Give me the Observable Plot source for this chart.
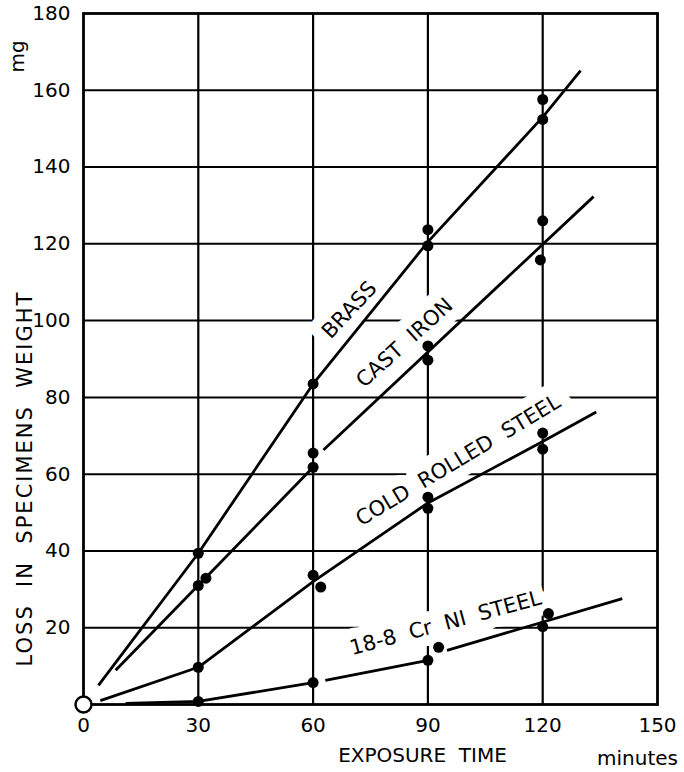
<!DOCTYPE html>
<html>
<head>
<meta charset="utf-8">
<script src="https://cdn.jsdelivr.net/npm/d3@7"></script>
<script src="https://cdn.jsdelivr.net/npm/@observablehq/plot@0.6"></script>
<style>
  html, body { margin: 0; padding: 0; background: #fff; }
  svg text { white-space: pre; }
</style>
</head>
<body>
<div id="chart"></div>
<script>
// ---- tick labels ----
const xTicks = [0, 30, 60, 90, 120, 150];
const yTicks = [20, 40, 60, 80, 100, 120, 140, 160, 180];
const xGrid = [30, 60, 90, 120];
const yGrid = [20, 40, 60, 80, 100, 120, 140, 160];

// ---- measured points (minutes, mg) ----
const brassPtsX = [30, 60, 90, 90, 120, 120];
const brassPtsY = [39.4, 83.5, 123.7, 119.5, 157.6, 152.4];
const ironPtsX = [30, 32, 60, 60, 90, 90, 120, 119.4];
const ironPtsY = [31, 32.9, 65.5, 61.8, 93.4, 89.7, 126, 115.8];
const coldPtsX = [30, 60, 62, 90, 90, 120, 120];
const coldPtsY = [9.7, 33.7, 30.6, 54, 51.1, 70.7, 66.5];
const crniPtsX = [30, 60, 90, 92.8, 120, 121.5];
const crniPtsY = [0.8, 5.7, 11.5, 14.9, 20.3, 23.7];

// ---- fitted curves (segments) ----
const brassLineX = [3.9, 30, 60, 90, 120, 129.9];
const brassLineY = [5, 39.4, 83.5, 120.5, 153, 165.1];
const brassLineSeg = [0, 0, 0, 0, 0, 0];
const ironLineX = [8.4, 60, 62.7, 133.3];
const ironLineY = [8.9, 61.8, 66.3, 132.3];
const ironLineSeg = [0, 0, 1, 1];
const coldLineX = [4.4, 30, 60, 90, 120, 134];
const coldLineY = [1, 9.7, 32, 52.5, 68.5, 76.2];
const coldLineSeg = [0, 0, 0, 0, 0, 0];
const crniLineX = [11, 30, 60, 63.2, 90, 95, 140.8];
const crniLineY = [0.3, 0.8, 5.7, 6.3, 11.5, 14.1, 27.6];
const crniLineSeg = [0, 0, 0, 1, 1, 2, 2];

// ---- curve labels ----
const labelText = ["BRASS", "CAST  IRON", "COLD  ROLLED  STEEL", "18-8  Cr  NI  STEEL"];
const labelX = [69.5, 83.9, 97.9, 94.6];
const labelY = [102.8, 94.2, 63.6, 21.2];
const labelAngle = [-47, -42, -31, -15];

// ---- origin ----
const originX = [0];
const originY = [0];

// build tables
const pts = (xs, ys) => xs.map((x, i) => ({x, y: ys[i]}));
const segs = (name, xs, ys, ss) => xs.map((x, i) => ({x, y: ys[i], z: name + ss[i]}));
const points = [
  ...pts(brassPtsX, brassPtsY), ...pts(ironPtsX, ironPtsY),
  ...pts(coldPtsX, coldPtsY), ...pts(crniPtsX, crniPtsY)
];
const lines = [
  ...segs("brass", brassLineX, brassLineY, brassLineSeg),
  ...segs("iron", ironLineX, ironLineY, ironLineSeg),
  ...segs("cold", coldLineX, coldLineY, coldLineSeg),
  ...segs("crni", crniLineX, crniLineY, crniLineSeg)
];
const labels = labelText.map((t, i) => ({t, x: labelX[i], y: labelY[i], a: labelAngle[i]}));
const origin = pts(originX, originY);

const font = "DejaVu Sans, sans-serif";

const chart = Plot.plot({
  width: 684,
  height: 772,
  marginTop: 13,
  marginBottom: 68,
  marginLeft: 83,
  marginRight: 27,
  style: {fontFamily: font, background: "#fff", color: "#000"},
  x: {domain: [0, 150], axis: null},
  y: {domain: [0, 180], axis: null},
  marks: [
    Plot.gridX(xGrid, {stroke: "#000", strokeOpacity: 1, strokeWidth: 2.2}),
    Plot.gridY(yGrid, {stroke: "#000", strokeOpacity: 1, strokeWidth: 2}),
    // white knock-outs behind the curve labels
    Plot.text(labels, {x: "x", y: "y", text: "t", rotate: "a", fontSize: 21,
      fill: "#fff", stroke: "#fff", strokeWidth: 22, strokeLinejoin: "round"}),
    Plot.frame({stroke: "#000", strokeWidth: 2.8}),
    Plot.line(lines, {x: "x", y: "y", z: "z", stroke: "#000", strokeWidth: 2.8, strokeLinecap: "butt"}),
    Plot.dot(points, {x: "x", y: "y", r: 5.5, fill: "#000", stroke: "none"}),
    Plot.dot(origin, {x: "x", y: "y", r: 8, fill: "#fff", stroke: "#000", strokeWidth: 2.4}),
    Plot.text(labels, {x: "x", y: "y", text: "t", rotate: "a", fontSize: 21, fill: "#000"}),
    Plot.axisX(xTicks, {tickSize: 0, tickPadding: 13, fontSize: 20, label: null, color: "#000"}),
    Plot.axisY(yTicks, {tickSize: 0, tickPadding: 13, fontSize: 20, label: null, color: "#000"}),
    Plot.text(["EXPOSURE  TIME"], {frameAnchor: "bottom", textAnchor: "middle", dx: 52, dy: 57, fontSize: 20, fill: "#000"}),
    Plot.text(["minutes"], {frameAnchor: "bottom", textAnchor: "middle", dx: 267, dy: 60, fontSize: 20, fill: "#000"}),
    Plot.text(["LOSS  IN  SPECIMENS  WEIGHT"], {frameAnchor: "left", textAnchor: "middle", dx: -58, dy: 119.5, rotate: -90, fontSize: 21, fill: "#000"}),
    Plot.text(["mg"], {frameAnchor: "left", textAnchor: "middle", dx: -66, dy: -302.5, rotate: -90, fontSize: 20, fill: "#000"})
  ]
});
d3.select(chart).selectAll("text")
  .filter(function () { return this.textContent.startsWith("LOSS"); })
  .style("letter-spacing", "2px");
document.getElementById("chart").append(chart);
</script>
</body>
</html>
